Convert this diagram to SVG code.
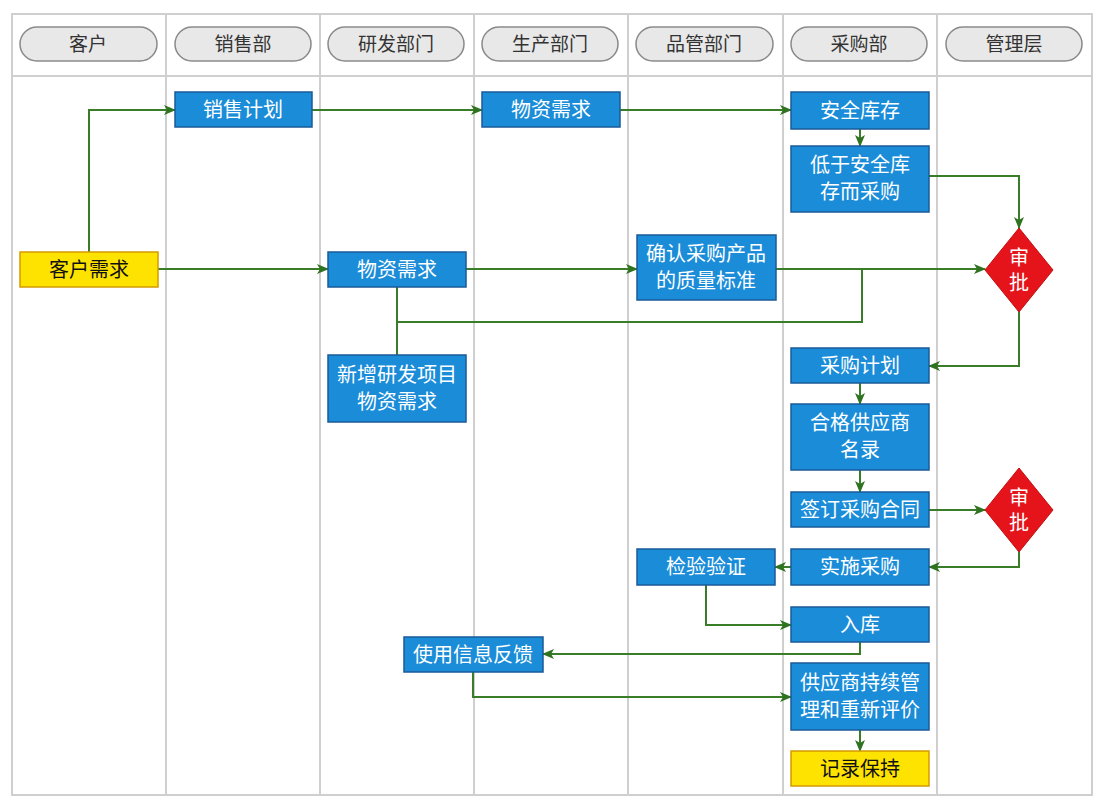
<svg xmlns="http://www.w3.org/2000/svg" width="1104" height="804" viewBox="0 0 1104 804">
<style>
.lane{fill:none;stroke:#cfcfcf;stroke-width:2}
.pill{fill:#e8e8e8;stroke:#8a8a8a;stroke-width:1.5}
.ph{font-family:"Liberation Sans","Noto Sans CJK SC",sans-serif;font-size:19px;fill:#333;text-anchor:middle}
.b{fill:#1a8cd8;stroke:#1a5a98;stroke-width:1.5}
.y{fill:#ffe300;stroke:#d49a00;stroke-width:1.5}
.d{fill:#e5141b;stroke:#c40d10;stroke-width:1}
.t{font-family:"Liberation Sans","Noto Sans CJK SC",sans-serif;font-size:20px;fill:#fff;text-anchor:middle}
.tk{font-family:"Liberation Sans","Noto Sans CJK SC",sans-serif;font-size:20px;fill:#111;text-anchor:middle}
.c{fill:none;stroke:#3a7d28;stroke-width:2}
</style>
<defs>
<marker id="ar" markerWidth="12" markerHeight="10" refX="11" refY="5" orient="auto" markerUnits="userSpaceOnUse">
<path d="M0,0 L12,5 L0,10 L3,5 Z" fill="#2f7320"/>
</marker>
</defs>
<rect width="1104" height="804" fill="#fff"/>
<g id="frame">
<rect class="lane" x="12" y="14" width="1080" height="781"/>
<line class="lane" x1="12" y1="76" x2="1092" y2="76"/>
<line class="lane" x1="166" y1="14" x2="166" y2="795"/>
<line class="lane" x1="320" y1="14" x2="320" y2="795"/>
<line class="lane" x1="474" y1="14" x2="474" y2="795"/>
<line class="lane" x1="628" y1="14" x2="628" y2="795"/>
<line class="lane" x1="783" y1="14" x2="783" y2="795"/>
<line class="lane" x1="937" y1="14" x2="937" y2="795"/>
</g>
<g id="headers">
<rect class="pill" x="20" y="27" width="137" height="34" rx="17"/><text class="ph" x="88" y="51">客户</text>
<rect class="pill" x="175" y="27" width="136" height="34" rx="17"/><text class="ph" x="243" y="51">销售部</text>
<rect class="pill" x="328" y="27" width="136" height="34" rx="17"/><text class="ph" x="396" y="51">研发部门</text>
<rect class="pill" x="482" y="27" width="136" height="34" rx="17"/><text class="ph" x="550" y="51">生产部门</text>
<rect class="pill" x="636" y="27" width="137" height="34" rx="17"/><text class="ph" x="704" y="51">品管部门</text>
<rect class="pill" x="791" y="27" width="136" height="34" rx="17"/><text class="ph" x="859" y="51">采购部</text>
<rect class="pill" x="946" y="27" width="136" height="34" rx="17"/><text class="ph" x="1014" y="51">管理层</text>
</g>
<g id="connectors">
<polyline class="c" points="89,252 89,110 175,110" marker-end="url(#ar)"/>
<line class="c" x1="312" y1="110" x2="482" y2="110" marker-end="url(#ar)"/>
<line class="c" x1="620" y1="110" x2="791" y2="110" marker-end="url(#ar)"/>
<line class="c" x1="860" y1="129" x2="860" y2="146" marker-end="url(#ar)"/>
<polyline class="c" points="929,176 1019,176 1019,228" marker-end="url(#ar)"/>
<line class="c" x1="158" y1="269" x2="328" y2="269" marker-end="url(#ar)"/>
<line class="c" x1="466" y1="269" x2="637" y2="269" marker-end="url(#ar)"/>
<line class="c" x1="776" y1="269" x2="985" y2="269" marker-end="url(#ar)"/>
<line class="c" x1="397" y1="287" x2="397" y2="355"/>
<polyline class="c" points="397,322 862,322 862,269"/>
<polyline class="c" points="1019,312 1019,366 929,366" marker-end="url(#ar)"/>
<line class="c" x1="860" y1="383" x2="860" y2="404" marker-end="url(#ar)"/>
<line class="c" x1="860" y1="470" x2="860" y2="492" marker-end="url(#ar)"/>
<line class="c" x1="929" y1="510" x2="985" y2="510" marker-end="url(#ar)"/>
<polyline class="c" points="1019,552 1019,567 929,567" marker-end="url(#ar)"/>
<line class="c" x1="791" y1="567" x2="775" y2="567" marker-end="url(#ar)"/>
<polyline class="c" points="706,585 706,625 791,625" marker-end="url(#ar)"/>
<polyline class="c" points="860,642 860,654 543,654" marker-end="url(#ar)"/>
<polyline class="c" points="473,672 473,697 791,697" marker-end="url(#ar)"/>
<line class="c" x1="860" y1="730" x2="860" y2="751" marker-end="url(#ar)"/>
</g>
<g id="n-sales-plan"><rect class="b" x="175" y="92" width="137" height="35"/><text class="t" x="243" y="117">销售计划</text></g>
<g id="n-prod-need"><rect class="b" x="482" y="92" width="138" height="35"/><text class="t" x="551" y="117">物资需求</text></g>
<g id="n-safety"><rect class="b" x="791" y="92" width="138" height="37"/><text class="t" x="860" y="118">安全库存</text></g>
<g id="n-below"><rect class="b" x="791" y="146" width="138" height="66"/><text class="t" x="860" y="172">低于安全库</text><text class="t" x="860" y="199">存而采购</text></g>
<g id="n-customer-need"><rect class="y" x="20" y="252" width="138" height="35"/><text class="tk" x="89" y="277">客户需求</text></g>
<g id="n-rd-need"><rect class="b" x="328" y="252" width="138" height="35"/><text class="t" x="397" y="277">物资需求</text></g>
<g id="n-quality"><rect class="b" x="637" y="235" width="139" height="65"/><text class="t" x="706" y="261">确认采购产品</text><text class="t" x="706" y="288">的质量标准</text></g>
<g id="n-approve1"><polygon class="d" points="1019,228 1053,270 1019,312 985,270"/><text class="t" x="1019" y="265">审</text><text class="t" x="1019" y="290">批</text></g>
<g id="n-new-rd"><rect class="b" x="328" y="355" width="138" height="67"/><text class="t" x="397" y="382">新增研发项目</text><text class="t" x="397" y="409">物资需求</text></g>
<g id="n-purchase-plan"><rect class="b" x="791" y="348" width="138" height="35"/><text class="t" x="860" y="373">采购计划</text></g>
<g id="n-supplier-list"><rect class="b" x="791" y="404" width="138" height="66"/><text class="t" x="860" y="430">合格供应商</text><text class="t" x="860" y="457">名录</text></g>
<g id="n-contract"><rect class="b" x="791" y="492" width="138" height="35"/><text class="t" x="860" y="517">签订采购合同</text></g>
<g id="n-approve2"><polygon class="d" points="1019,468 1053,510 1019,552 985,510"/><text class="t" x="1019" y="505">审</text><text class="t" x="1019" y="530">批</text></g>
<g id="n-execute"><rect class="b" x="791" y="549" width="138" height="36"/><text class="t" x="860" y="574">实施采购</text></g>
<g id="n-inspect"><rect class="b" x="637" y="549" width="138" height="36"/><text class="t" x="706" y="574">检验验证</text></g>
<g id="n-storage"><rect class="b" x="791" y="607" width="138" height="35"/><text class="t" x="860" y="632">入库</text></g>
<g id="n-feedback"><rect class="b" x="404" y="637" width="139" height="35"/><text class="t" x="473" y="662">使用信息反馈</text></g>
<g id="n-supplier-mgmt"><rect class="b" x="791" y="663" width="138" height="67"/><text class="t" x="860" y="690">供应商持续管</text><text class="t" x="860" y="717">理和重新评价</text></g>
<g id="n-record"><rect class="y" x="791" y="751" width="138" height="35"/><text class="tk" x="860" y="776">记录保持</text></g>
</svg>
